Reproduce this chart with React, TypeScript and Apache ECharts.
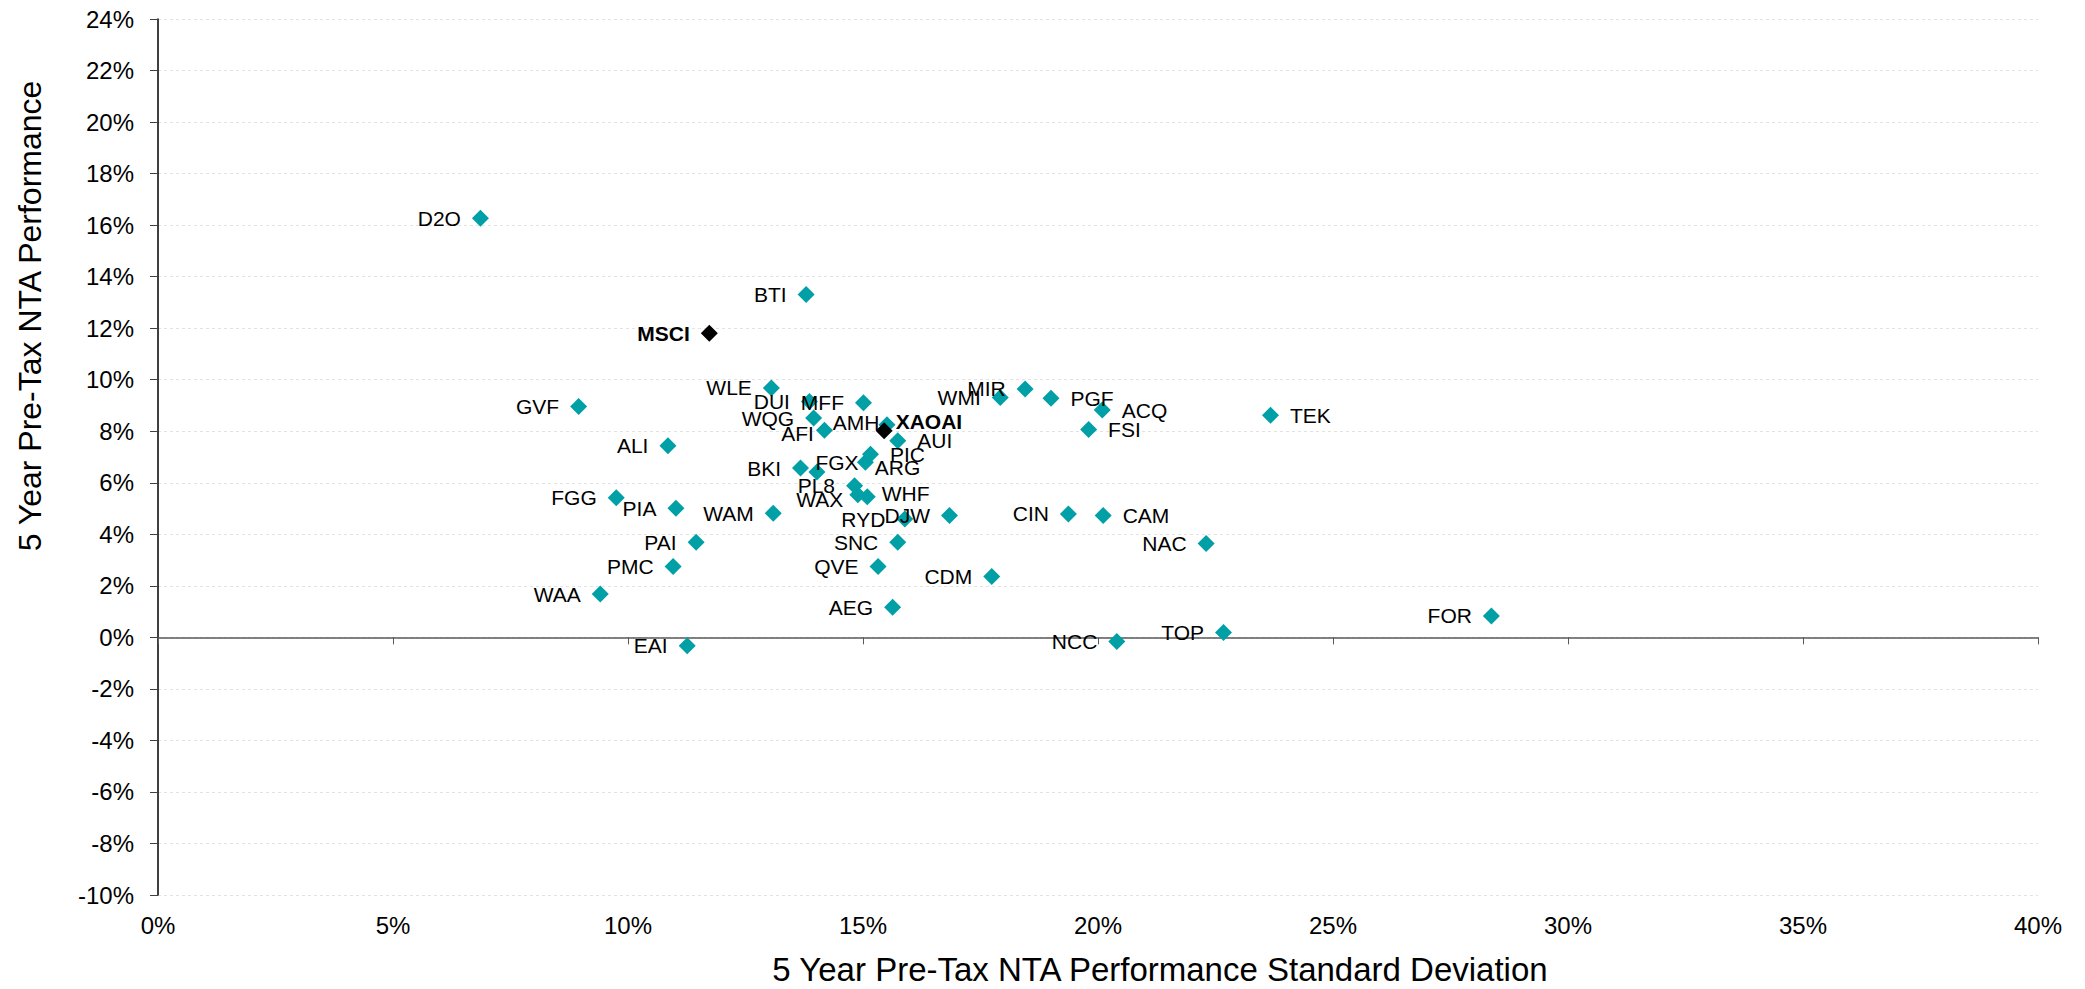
import React, { useEffect, useRef } from "react";
import * as echarts from "echarts";

// Listed investment companies: name, 5y NTA std dev (%), 5y pre-tax NTA performance (%)
const licNames = [
  "D2O", "BTI", "WLE", "GVF", "ALI", "DUI", "MFF", "WQG", "AFI", "AMH",
  "AUI", "PIC", "ARG", "BKI", "FGX", "PL8", "WAX", "WHF", "RYD", "DJW",
  "CIN", "WAM", "SNC", "QVE", "CDM", "AEG", "EAI", "WMI", "MIR", "PGF",
  "ACQ", "FSI", "TEK", "CAM", "NAC", "NCC", "TOP", "FOR", "FGG", "PIA",
  "PAI", "PMC", "WAA",
];
const licStdDev = [
  6.86, 13.79, 13.05, 8.95, 10.85, 13.86, 15.01, 13.95, 14.18, 15.51,
  15.74, 15.16, 15.05, 13.67, 14.02, 14.82, 14.89, 15.09, 15.89, 16.84,
  19.37, 13.09, 15.74, 15.32, 17.74, 15.63, 11.26, 17.92, 18.45, 19.0,
  20.09, 19.8, 23.67, 20.11, 22.3, 20.4, 22.67, 28.37, 9.75, 11.02,
  11.45, 10.96, 9.41,
];
const licPerf = [
  16.27, 13.31, 9.68, 8.96, 7.44, 9.15, 9.11, 8.51, 8.04, 8.25,
  7.63, 7.11, 6.8, 6.57, 6.42, 5.88, 5.53, 5.46, 4.59, 4.73,
  4.79, 4.82, 3.69, 2.75, 2.36, 1.17, -0.33, 9.31, 9.64, 9.28,
  8.82, 8.07, 8.62, 4.73, 3.64, -0.16, 0.19, 0.83, 5.42, 5.01,
  3.69, 2.75, 1.68,
];

// Benchmarks
const benchNames = ["MSCI", "XAOAI"];
const benchStdDev = [11.73, 15.45];
const benchPerf = [11.8, 8.02];

// Axis ticks
const xMin = 0, xMax = 40, xStep = 5;
const yMin = -10, yMax = 24, yStep = 2;

const xTitle = "5 Year Pre-Tax NTA Performance Standard Deviation";
const yTitle = "5 Year Pre-Tax NTA Performance";

// Label placement (style only)
const rightLabelled = ["AUI", "PIC", "ARG", "FGX", "WHF", "PGF", "ACQ", "FSI", "TEK", "CAM", "XAOAI"];
const labelNudge: Record<string, [number, number]> = {
  AFI: [9, 3],
  AMH: [12, -2],
  XAOAI: [-8, -9],
  ARG: [-10, 5],
  FGX: [-21, -9],
  WAX: [5, 5],
  WHF: [-5, -3],
};

const FONT = '"Liberation Sans", Arial, Helvetica, sans-serif';
const TEAL = "#00A0A6";

function item(name: string, x: number, y: number) {
  const right = rightLabelled.includes(name);
  return {
    name,
    value: [x, y],
    label: {
      position: right ? "right" : "left",
      offset: labelNudge[name] || [0, 0],
    },
  };
}

export default function App() {
  const ref = useRef<HTMLDivElement>(null);

  useEffect(() => {
    if (!ref.current) return;
    const chart = echarts.init(ref.current, undefined, { renderer: "svg" });

    const licData = licNames.map((n, i) => item(n, licStdDev[i], licPerf[i]));
    const benchData = benchNames.map((n, i) => item(n, benchStdDev[i], benchPerf[i]));

    const baseLabel = {
      show: true,
      formatter: "{b}",
      fontFamily: FONT,
      fontSize: 21,
      color: "#000",
      distance: 11,
    };

    chart.setOption({
      animation: false,
      backgroundColor: "#fff",
      textStyle: { fontFamily: FONT },
      grid: { left: 158, right: 47, top: 19, bottom: 94, containLabel: false },
      xAxis: [
        {
          type: "value",
          min: xMin,
          max: xMax,
          interval: xStep,
          axisLine: { show: false, onZero: false },
          axisTick: { show: false },
          splitLine: { show: false },
          axisLabel: {
            formatter: "{value}%",
            fontFamily: FONT,
            fontSize: 24,
            color: "#000",
            margin: 18,
          },
        },
        {
          type: "value",
          position: "bottom",
          min: xMin,
          max: xMax,
          interval: xStep,
          axisLine: { show: true, onZero: true, lineStyle: { color: "#595959", width: 1.5 } },
          axisTick: { show: true, length: 7, lineStyle: { color: "#595959", width: 1 } },
          splitLine: { show: false },
          axisLabel: { show: false },
        },
      ],
      yAxis: {
        type: "value",
        min: yMin,
        max: yMax,
        interval: yStep,
        axisLine: { show: true, onZero: false, lineStyle: { color: "#000", width: 1.5 } },
        axisTick: { show: true, length: 8, lineStyle: { color: "#404040", width: 1 } },
        splitLine: { show: true, lineStyle: { color: "#e3e3e3", type: [3, 3], width: 1 } },
        axisLabel: {
          formatter: "{value}%",
          fontFamily: FONT,
          fontSize: 24,
          color: "#000",
          margin: 24,
        },
      },
      graphic: [
        {
          type: "text",
          x: 1160,
          y: 969,
          style: {
            text: xTitle,
            fontFamily: FONT,
            fontSize: 33,
            fill: "#000",
            align: "center",
            verticalAlign: "middle",
          },
        },
        {
          type: "text",
          x: 30,
          y: 316,
          rotation: Math.PI / 2,
          style: {
            text: yTitle,
            fontFamily: FONT,
            fontSize: 32,
            fill: "#000",
            align: "center",
            verticalAlign: "middle",
          },
        },
      ],
      series: [
        {
          type: "scatter",
          name: "LIC",
          xAxisIndex: 0,
          symbol: "diamond",
          symbolSize: 17,
          itemStyle: { color: TEAL, opacity: 1 },
          label: { ...baseLabel },
          data: licData,
          z: 2,
        },
        {
          type: "scatter",
          name: "Benchmark",
          xAxisIndex: 0,
          symbol: "diamond",
          symbolSize: 17,
          itemStyle: { color: "#000", opacity: 1 },
          label: { ...baseLabel, fontWeight: "bold" },
          data: benchData,
          z: 3,
        },
      ],
    });

    return () => chart.dispose();
  }, []);

  return (
    <div
      ref={ref}
      style={{ position: "fixed", left: 0, top: 0, width: 2085, height: 989, background: "#fff" }}
    />
  );
}
